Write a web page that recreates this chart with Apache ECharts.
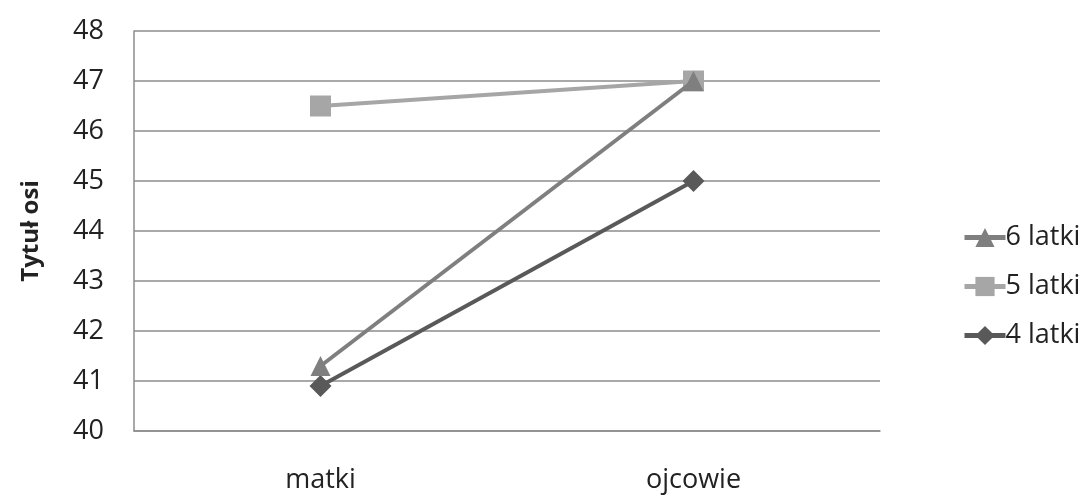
<!DOCTYPE html>
<html><head><meta charset="utf-8">
<script src="https://cdn.jsdelivr.net/npm/echarts@6/dist/echarts.min.js"></script>
<style>html,body{margin:0;padding:0;background:#fff}#c{width:1085px;height:497px}</style>
</head><body><div id="c"></div>
<script>
const categories = ['matki', 'ojcowie'];
const seriesNames = ['6 latki', '5 latki', '4 latki'];
const values6 = [41.3, 47];
const values5 = [46.5, 47];
const values4 = [40.9, 45];
const yTicks = [40, 41, 42, 43, 44, 45, 46, 47, 48];

const font = '"Open Sans", "Noto Sans", sans-serif';
const chart = echarts.init(document.getElementById('c'));
chart.setOption({
  animation: false,
  backgroundColor: '#fff',
  grid: { left: 134, right: 205, top: 31, bottom: 66, containLabel: false },
  legend: {
    orient: 'vertical', left: 957, top: 219, itemGap: 22, itemWidth: 41, itemHeight: 24,
    lineStyle: { width: 5 },
    textStyle: { fontFamily: font, fontSize: 27, color: '#222', padding: [0,0,0,-5] },
    data: seriesNames
  },
  xAxis: {
    type: 'category', data: categories, boundaryGap: true,
    axisLine: { lineStyle: { color: '#8c8c8c', width: 1.5 } },
    axisTick: { show: false },
    axisLabel: { fontFamily: font, fontSize: 27, color: '#222', margin: 36 }
  },
  yAxis: {
    type: 'value', min: yTicks[0], max: yTicks[yTicks.length-1], interval: 1,
    name: 'Tytuł osi', nameLocation: 'middle', nameGap: 91, nameRotate: 90,
    nameTextStyle: { fontFamily: font, fontSize: 24, fontWeight: 'bold', color: '#222' },
    axisLine: { show: true, lineStyle: { color: '#8c8c8c', width: 1.5 } },
    axisTick: { show: false },
    axisLabel: { fontFamily: font, fontSize: 27, color: '#222', margin: 30 },
    splitLine: { lineStyle: { color: '#8c8c8c', width: 1.5 } }
  },
  series: [
    { name: seriesNames[0], type: 'line', data: values6, symbol: 'triangle', symbolSize: 20, z: 5,
      lineStyle: { color: '#7f7f7f', width: 4 }, itemStyle: { color: '#7f7f7f' } },
    { name: seriesNames[1], type: 'line', data: values5, symbol: 'rect', symbolSize: 21, z: 3,
      lineStyle: { color: '#a6a6a6', width: 4 }, itemStyle: { color: '#a6a6a6' } },
    { name: seriesNames[2], type: 'line', data: values4, symbol: 'diamond', symbolSize: 22, z: 4,
      lineStyle: { color: '#595959', width: 4 }, itemStyle: { color: '#595959' } }
  ]
});
</script></body></html>
